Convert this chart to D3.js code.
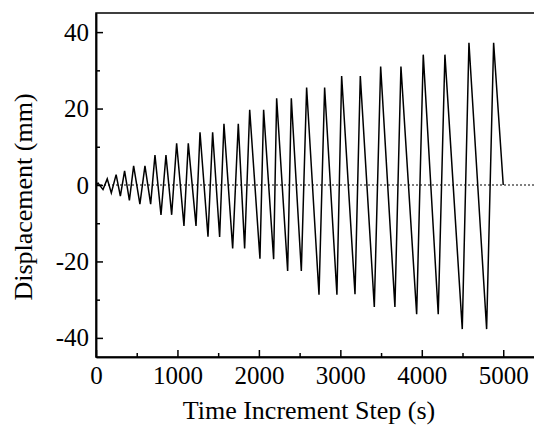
<!DOCTYPE html>
<html>
<head>
<meta charset="utf-8">
<script src="https://d3js.org/d3.v7.min.js"></script>
<style>
  body { margin: 0; background: #fff; }
  .axis path, .axis line { stroke: #000; stroke-width: 1.5; }
  .axis text { font-family: "Liberation Serif", "Times New Roman", serif; font-size: 25px; fill: #000; }
  .title { font-family: "Liberation Serif", "Times New Roman", serif; font-size: 26px; fill: #000; }
</style>
</head>
<body>
<script>
// loading protocol, vertices
var stepTimes = [0, 25, 86, 138, 188, 247, 299, 351, 410, 462, 539, 601, 671, 724, 798, 859, 929,
  990, 1080, 1133, 1228, 1277, 1375, 1432, 1518, 1571, 1678, 1747, 1825, 1887, 2013, 2058, 2181,
  2218, 2353, 2398, 2521, 2586, 2738, 2807, 2958, 3016, 3180, 3245, 3417, 3495, 3670, 3744, 3937,
  4018, 4202, 4284, 4497, 4579, 4796, 4882, 5000];
var displacement = [0, 0.5, -1.2, 1.6, -2.1, 2.7, -2.9, 3.7, -4.0, 5.0, -5.0, 5.0, -5.0, 7.8, -7.8, 7.8, -7.8,
  10.9, -10.7, 10.9, -10.7, 13.8, -13.5, 13.8, -13.6, 16.0, -16.6, 16.0, -16.6, 19.7, -19.3, 19.7, -19.4,
  22.7, -22.5, 22.7, -22.5, 25.5, -28.7, 25.5, -28.7, 28.5, -28.6, 28.5, -31.9, 31.0, -31.9, 31.0, -33.8,
  34.1, -33.8, 34.1, -37.7, 37.2, -37.7, 37.2, 0];

var xMajor = [0, 1000, 2000, 3000, 4000, 5000];
var xMinor = [500, 1500, 2500, 3500, 4500];
var yMajor = [-40, -20, 0, 20, 40];
var yMinor = [-30, -10, 10, 30];

var margin = {top: 13, right: 0, bottom: 71, left: 96},
    width = 534 - margin.left - margin.right + 1,
    height = 428 - margin.top - margin.bottom;

var svg = d3.select("body").append("svg")
    .attr("width", 534)
    .attr("height", 428)
  .append("g")
    .attr("transform", "translate(" + margin.left + "," + margin.top + ")");

var data = stepTimes.map(function(t, i) { return {t: t, d: displacement[i]}; });

var x = d3.scaleLinear().domain([0, 5390]).range([0, width]);
var y = d3.scaleLinear().domain([-45, 45]).range([height, 0]);

// plain hyphen for negatives, like the original
var plain = function(d) { return String(d); };

// zero reference line
svg.append("line")
    .attr("x1", x(0)).attr("x2", width)
    .attr("y1", y(0)).attr("y2", y(0))
    .attr("stroke", "#000")
    .attr("stroke-width", 1)
    .attr("stroke-dasharray", "2,2");

// displacement curve
svg.append("path")
    .datum(data)
    .attr("fill", "none")
    .attr("stroke", "#000")
    .attr("stroke-width", 1.5)
    .attr("d", d3.line().x(function(d) { return x(d.t); }).y(function(d) { return y(d.d); }));

// frame
svg.append("rect")
    .attr("width", width).attr("height", height)
    .attr("fill", "none")
    .attr("stroke", "#000")
    .attr("stroke-width", 1.5);

// x axis, ticks pointing in
svg.append("g")
    .attr("class", "axis")
    .attr("transform", "translate(0," + height + ")")
    .call(d3.axisBottom(x).tickValues(xMinor).tickSizeInner(-4).tickSizeOuter(0).tickFormat(""));
svg.append("g")
    .attr("class", "axis")
    .attr("transform", "translate(0," + height + ")")
    .call(d3.axisBottom(x).tickValues(xMajor).tickSizeInner(-7).tickSizeOuter(0).tickPadding(9).tickFormat(plain));

// y axis
svg.append("g")
    .attr("class", "axis")
    .call(d3.axisLeft(y).tickValues(yMinor).tickSizeInner(-4).tickSizeOuter(0).tickFormat(""));
svg.append("g")
    .attr("class", "axis")
    .call(d3.axisLeft(y).tickValues(yMajor).tickSizeInner(-7).tickSizeOuter(0).tickPadding(7).tickFormat(plain));

// axis titles
svg.append("text")
    .attr("class", "title")
    .attr("x", 213)
    .attr("y", height + 62)
    .style("text-anchor", "middle")
    .text("Time Increment Step (s)");

svg.append("text")
    .attr("class", "title")
    .attr("transform", "rotate(-90)")
    .attr("x", -(height / 2) - 12)
    .attr("y", -margin.left + 32)
    .style("text-anchor", "middle")
    .text("Displacement (mm)");
</script>
</body>
</html>
